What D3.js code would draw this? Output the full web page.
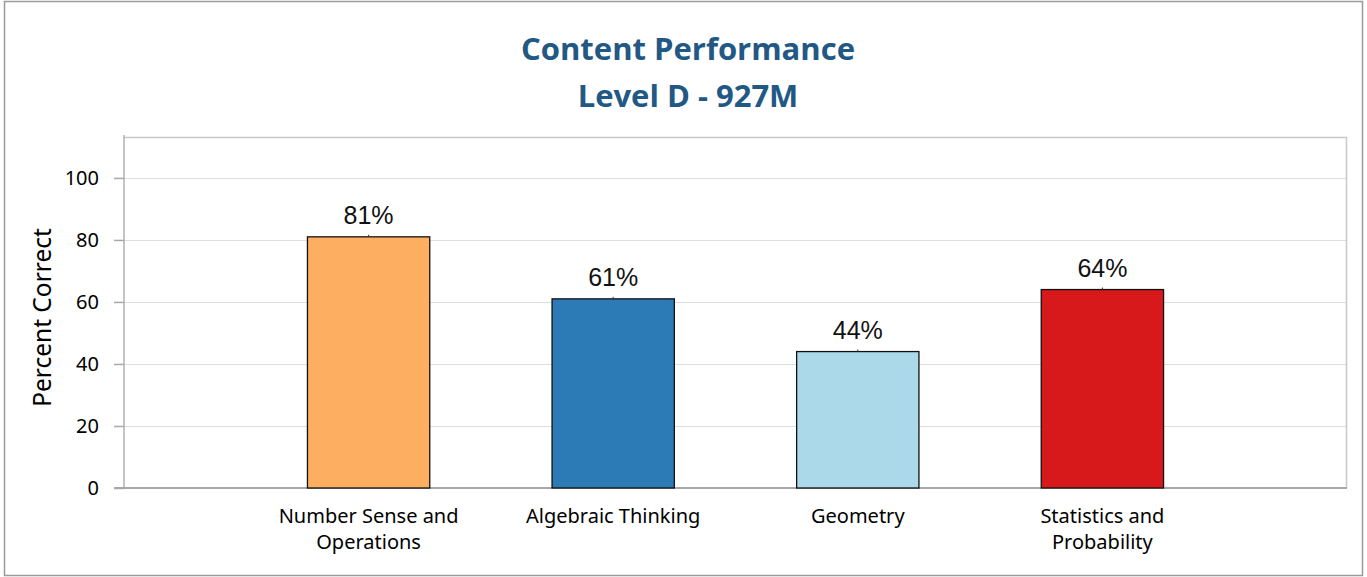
<!DOCTYPE html>
<html><head><meta charset="utf-8">
<script src="https://cdn.jsdelivr.net/npm/d3@7"></script>
<style>html,body{margin:0;padding:0;background:#fff;}svg{display:block;}</style>
</head><body>
<script>
const titleLines = ["Content Performance", "Level D - 927M"];
const categories = [["Number Sense and", "Operations"], ["Algebraic Thinking"], ["Geometry"], ["Statistics and", "Probability"]];
const values = [81, 61, 44, 64];
const barColors = ["#fdae61", "#2c7bb6", "#abd9e9", "#d7191c"];
const yTicks = [0, 20, 40, 60, 80, 100];
const yLabel = "Percent Correct";

const W = 1367, H = 577;
const svg = d3.select("body").append("svg").attr("width", W).attr("height", H);
const labelFont = "'Noto Sans', sans-serif";

// outer border
svg.append("rect").attr("x", 4.5).attr("y", 1.5).attr("width", 1358).attr("height", 574)
  .attr("fill", "#fff").attr("stroke", "#9a9a9a").attr("stroke-width", 1.5);

const L = 124, R = 1347, T = 137, B = 488;
const y = d3.scaleLinear().domain([0, 113.2]).range([B, T]);
const x = d3.scaleLinear().domain([0, categories.length + 1]).range([L, R]);
const bw = (x(1) - x(0)) / 2;

// title
svg.append("g").selectAll("text").data(titleLines).join("text")
  .attr("x", 688).attr("y", (d, i) => 60 + i * 46.7)
  .attr("text-anchor", "middle")
  .attr("font-family", "'Open Sans', Lato, sans-serif").attr("font-weight", "bold")
  .attr("font-size", 31).attr("fill", "#215884").text(d => d);

// gridlines
svg.append("g").selectAll("line").data(yTicks.filter(d => d > 0)).join("line")
  .attr("x1", L).attr("x2", R).attr("y1", d => Math.round(y(d)) + 0.5).attr("y2", d => Math.round(y(d)) + 0.5)
  .attr("stroke", "#dddddd").attr("stroke-width", 1);

// plot frame top/right
svg.append("path").attr("d", `M${L},${T + 0.5}H${R - 0.5}V${B}`)
  .attr("fill", "none").attr("stroke", "#c8c8c8").attr("stroke-width", 1.5);

// y axis
const yAxis = d3.axisLeft(y).tickValues(yTicks).tickSize(10).tickPadding(15);
const ga = svg.append("g").attr("transform", `translate(${L},0)`).call(yAxis);
ga.select(".domain").attr("stroke", "#b0b0b0").attr("stroke-width", 1.5).attr("d", `M0,${T - 2}V${B}`);
ga.selectAll(".tick line").attr("stroke", "#a8a8a8").attr("stroke-width", 1.5);
ga.selectAll(".tick text").attr("font-family", labelFont)
  .attr("font-size", 20).attr("fill", "#000");

// x axis line
svg.append("line").attr("x1", L - 10).attr("x2", R).attr("y1", B).attr("y2", B)
  .attr("stroke", "#a8a8a8").attr("stroke-width", 2);

// y label
svg.append("text").attr("transform", `translate(51,${(228 + 407) / 2}) rotate(-90)`)
  .attr("text-anchor", "middle").attr("font-family", labelFont)
  .attr("font-size", 24.5).attr("fill", "#000").text(yLabel);

// bars
const bars = svg.append("g");
bars.selectAll("rect").data(values).join("rect")
  .attr("x", (d, i) => x(i + 1) - bw / 2).attr("width", bw)
  .attr("y", d => y(d)).attr("height", d => B - y(d))
  .attr("fill", (d, i) => barColors[i]).attr("stroke", "#111").attr("stroke-width", 1.3);
bars.selectAll("line").data(values).join("line")
  .attr("x1", (d, i) => x(i + 1)).attr("x2", (d, i) => x(i + 1))
  .attr("y1", d => y(d) - 2).attr("y2", d => y(d)).attr("stroke", "#333").attr("stroke-width", 1);

// value labels
svg.append("g").selectAll("text").data(values).join("text")
  .attr("x", (d, i) => x(i + 1)).attr("y", d => y(d) - 13)
  .attr("text-anchor", "middle").attr("font-family", "'Liberation Sans', Arial, sans-serif")
  .attr("font-size", 25).attr("fill", "#111").text(d => d + "%");

// category labels
const cg = svg.append("g").selectAll("text").data(categories).join("text")
  .attr("text-anchor", "middle").attr("font-family", labelFont)
  .attr("font-size", 20).attr("fill", "#000");
cg.each(function (lines, i) {
  d3.select(this).selectAll("tspan").data(lines).join("tspan")
    .attr("x", x(i + 1)).attr("y", (d, j) => 522.5 + j * 26.5).text(d => d);
});
</script>
</body></html>
